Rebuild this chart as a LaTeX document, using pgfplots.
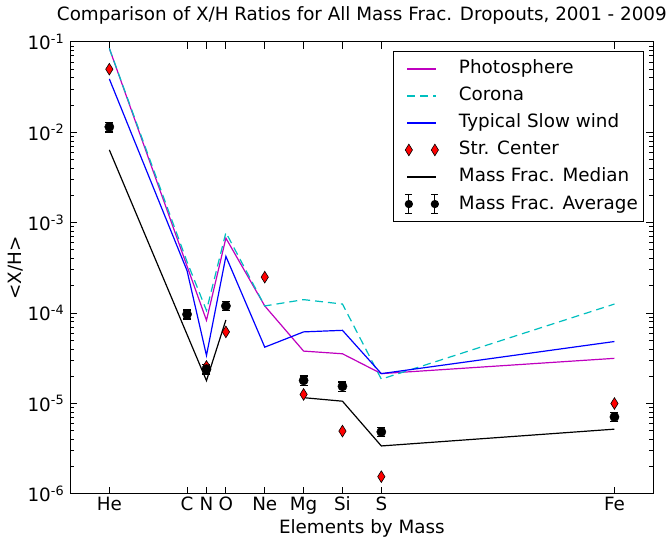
\documentclass[border=0pt]{standalone}
\usepackage{pgfplots}
\pgfplotsset{compat=1.18}
\usepackage{fontspec}
\setmainfont{DejaVu Sans}
\definecolor{mplm}{rgb}{0.75,0,0.75}
\definecolor{mplc}{rgb}{0,0.75,0.75}
\begin{document}
\fontsize{18.4}{22}\selectfont
\begin{tikzpicture}
\begin{axis}[
  scale only axis, width=583bp, height=452bp,
  ymode=log, xmin=0, xmax=60, ymin=1e-6, ymax=1e-1,
  xtick={4,12,14,16,20,24,28,32,56},
  xticklabels={He,C,N,O,Ne,Mg,Si,S,Fe},
  xticklabel style={anchor=base, yshift=-17bp},
  ytick={1e-6,1e-5,1e-4,1e-3,1e-2,1e-1},
  yticklabels={10\textsuperscript{-6},10\textsuperscript{-5},10\textsuperscript{-4},10\textsuperscript{-3},10\textsuperscript{-2},10\textsuperscript{-1}},
  minor ytick={2e-6,3e-6,4e-6,5e-6,6e-6,7e-6,8e-6,9e-6,2e-5,3e-5,4e-5,5e-5,6e-5,7e-5,8e-5,9e-5,2e-4,3e-4,4e-4,5e-4,6e-4,7e-4,8e-4,9e-4,2e-3,3e-3,4e-3,5e-3,6e-3,7e-3,8e-3,9e-3,2e-2,3e-2,4e-2,5e-2,6e-2,7e-2,8e-2,9e-2},
  tick align=inside, tick pos=both,
  major tick length=7bp, minor tick length=4bp,
  every tick/.style={black, line width=1bp},
  axis line style={line width=1bp},
  title={Comparison of X/H Ratios for All Mass Frac. Dropouts, 2001 - 2009},
  title style={at={(axis description cs:0.5,1)}, anchor=base, yshift=16bp, inner sep=0pt},
  xlabel={Elements by Mass},
  xlabel style={at={(axis description cs:0.5,0)}, anchor=base, yshift=-39.3bp, inner sep=0pt},
  ylabel={<X/H>},
  ylabel style={at={(axis description cs:-0.0935,0.5)}, anchor=center, inner sep=0pt},
  legend style={at={(1,1)}, anchor=north east, xshift=-9bp, yshift=-9bp,
    draw=black, line width=1bp, inner xsep=6bp, inner ysep=7.5bp, row sep=7bp, column sep=20bp,
    nodes={inner sep=0bp, text height=15bp, text depth=5bp}},
  legend cell align=left,
]
\addplot[mplm, line width=1.2bp,
  legend image code/.code={\path (-7bp,0bp); \draw[mplm, line width=1.2bp] (0bp,0bp) -- (29bp,0bp);}] table {
x y
4 0.085
12 3.31e-4
14 8.32e-5
16 6.76e-4
20 1.20e-4
24 3.80e-5
28 3.55e-5
32 2.14e-5
56 3.16e-5
};
\addlegendentry{Photosphere}
\addplot[mplc, line width=1.2bp, dash pattern=on 8bp off 5bp,
  legend image code/.code={\path (-7bp,0bp); \draw[mplc, line width=1.2bp, dash pattern=on 8bp off 5bp] (0bp,0bp) -- (29bp,0bp);}] table {
x y
4 0.085
12 3.7e-4
14 1.07e-4
16 7.8e-4
20 1.20e-4
24 1.41e-4
28 1.26e-4
32 1.86e-5
56 1.26e-4
};
\addlegendentry{Corona}
\addplot[blue, line width=1.2bp,
  legend image code/.code={\path (-7bp,0bp); \draw[blue, line width=1.2bp] (0bp,0bp) -- (29bp,0bp);}] table {
x y
4 0.039
12 2.95e-4
14 3.4e-5
16 4.25e-4
20 4.2e-5
24 6.2e-5
28 6.45e-5
32 2.14e-5
56 4.85e-5
};
\addlegendentry{Typical Slow wind}
\addplot[only marks, mark=diamond*, mark size=5.85bp, mark options={xscale=0.83, fill=red, draw=black, line width=0.6bp},
  legend image code/.code={\path (-7bp,0bp) (29bp,0bp);
    \filldraw[fill=red, draw=black, line width=0.6bp] (1.4bp,5.85bp) -- (5bp,0bp) -- (1.4bp,-5.85bp) -- (-2.2bp,0bp) -- cycle;
    \filldraw[fill=red, draw=black, line width=0.6bp] (27.4bp,5.85bp) -- (31bp,0bp) -- (27.4bp,-5.85bp) -- (23.8bp,0bp) -- cycle;}] table {
x y
4 0.05
14 2.57e-5
16 6.2e-5
20 2.5e-4
24 1.26e-5
28 4.95e-6
32 1.55e-6
56 1.0e-5
};
\addlegendentry{Str. Center}
\addplot[black, line width=1.2bp, unbounded coords=jump,
  legend image code/.code={\path (-7bp,0bp); \draw[black, line width=1.2bp] (0bp,0bp) -- (29bp,0bp);}] table {
x y
4 6.4e-3
12 5.8e-5
14 1.79e-5
16 8.4e-5
20 nan
24 1.16e-5
28 1.06e-5
32 3.39e-6
56 5.2e-6
};
\addlegendentry{Mass Frac. Median}
\addplot[only marks, mark=*, mark size=4.65bp, black,
  legend image code/.code={\path (-7bp,0bp) (29bp,0bp);
    \draw[black, line width=1.2bp] (1.4bp,-9.5bp) -- (1.4bp,9.5bp) (-2bp,-9.5bp) -- (4.8bp,-9.5bp) (-2bp,9.5bp) -- (4.8bp,9.5bp);
    \draw[black, line width=1.2bp] (27.4bp,-9.5bp) -- (27.4bp,9.5bp) (24bp,-9.5bp) -- (30.8bp,-9.5bp) (24bp,9.5bp) -- (30.8bp,9.5bp);
    \fill[black] (1.4bp,0bp) circle (3.6bp) (27.4bp,0bp) circle (3.6bp);},
  error bars/.cd, y dir=both, y explicit,
  error bar style={line width=1.2bp},
  error mark options={rotate=90, black, mark size=4bp, line width=1.2bp}]
  table[x=x, y=y, y error=e] {
x y e
4 0.0115 0.0014
12 9.7e-5 1.1e-5
14 2.4e-5 2.8e-6
16 1.2e-4 1.4e-5
24 1.8e-5 2.1e-6
28 1.55e-5 1.8e-6
32 4.85e-6 5.6e-7
56 7.1e-6 8.2e-7
};
\addlegendentry{Mass Frac. Average}
\end{axis}
\path (current axis.south west) ++(-70.5bp,-44bp) coordinate (bl);
\path (current axis.north east) ++(12.7bp,42bp) coordinate (tr);
\pgfresetboundingbox
\useasboundingbox (bl) rectangle (tr);
\end{tikzpicture}
\end{document}
